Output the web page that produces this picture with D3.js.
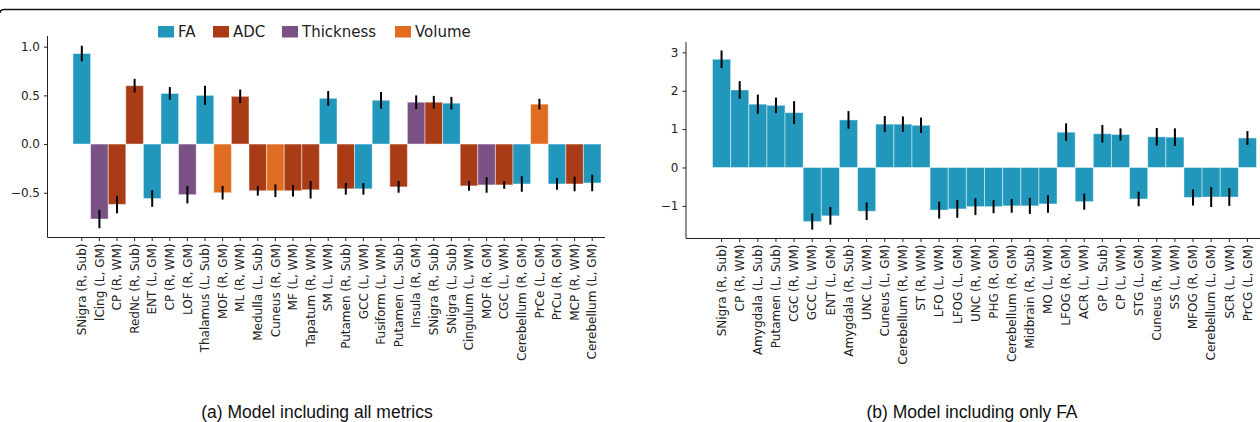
<!DOCTYPE html>
<html>
<head>
<meta charset="utf-8">
<script src="https://cdn.jsdelivr.net/npm/d3@7"></script>
<style>
  body { margin: 0; background: #fff; }
  svg { display: block; }
</style>
</head>
<body>
<script>
// ---- data: panel (a), all metrics ----
const labelsA = ["SNigra (R, Sub)", "lCing (L, GM)", "CP (R, WM)", "RedNc (R, Sub)", "ENT (L, GM)",
  "CP (R, WM)", "LOF (R, GM)", "Thalamus (L, Sub)", "MOF (R, GM)", "ML (R, WM)",
  "Medulla (L, Sub)", "Cuneus (R, GM)", "MF (L, WM)", "Tapatum (R, WM)", "SM (L, WM)",
  "Putamen (R, Sub)", "GCC (L, WM)", "Fusiform (L, WM)", "Putamen (L, Sub)", "Insula (R, GM)",
  "SNigra (R, Sub)", "SNigra (L, Sub)", "Cingulum (L, WM)", "MOF (R, GM)", "CGC (L, WM)",
  "Cerebellum (R, GM)", "PrCe (L, GM)", "PrCu (R, GM)", "MCP (R, WM)", "Cerebellum (L, GM)"];
const metricsA = ["FA", "Thickness", "ADC", "ADC", "FA",
  "FA", "Thickness", "FA", "Volume", "ADC",
  "ADC", "Volume", "ADC", "ADC", "FA",
  "ADC", "FA", "FA", "ADC", "Thickness",
  "ADC", "FA", "ADC", "Thickness", "ADC",
  "FA", "Volume", "FA", "ADC", "FA"];
const valuesA = [0.93, -0.77, -0.62, 0.60, -0.56,
  0.52, -0.52, 0.50, -0.50, 0.49,
  -0.48, -0.48, -0.48, -0.47, 0.47,
  -0.46, -0.46, 0.45, -0.44, 0.43,
  0.43, 0.42, -0.43, -0.42, -0.42,
  -0.41, 0.41, -0.41, -0.41, -0.40];
const errorsA = [0.08, 0.095, 0.09, 0.07, 0.085,
  0.065, 0.09, 0.10, 0.07, 0.07,
  0.05, 0.065, 0.06, 0.09, 0.075,
  0.06, 0.06, 0.085, 0.06, 0.07,
  0.065, 0.065, 0.05, 0.08, 0.04,
  0.08, 0.055, 0.06, 0.075, 0.085];
const ticksA = [-0.5, 0.0, 0.5, 1.0];

// ---- data: panel (b), FA only ----
const labelsB = ["SNigra (R, Sub)", "CP (R, WM)", "Amygdala (L, Sub)", "Putamen (L, Sub)", "CGC (R, WM)",
  "GCC (L, WM)", "ENT (L, GM)", "Amygdala (R, Sub)", "UNC (L, WM)", "Cuneus (L, GM)",
  "Cerebellum (R, WM)", "ST (R, WM)", "LFO (L, WM)", "LFOG (L, GM)", "UNC (R, WM)",
  "PHG (R, GM)", "Cerebellum (R, GM)", "Midbrain (R, Sub)", "MO (L, WM)", "LFOG (R, GM)",
  "ACR (L, WM)", "GP (L, Sub)", "CP (L, WM)", "STG (L, GM)", "Cuneus (R, WM)",
  "SS (L, WM)", "MFOG (R, GM)", "Cerebellum (L, GM)", "SCR (L, WM)", "PrCG (L, GM)"];
const valuesB = [2.82, 2.02, 1.65, 1.62, 1.43,
  -1.41, -1.26, 1.24, -1.14, 1.13,
  1.13, 1.10, -1.11, -1.08, -1.02,
  -1.02, -1.00, -1.00, -0.95, 0.92,
  -0.89, 0.88, 0.86, -0.82, 0.80,
  0.79, -0.78, -0.77, -0.77, 0.77];
const errorsB = [0.23, 0.23, 0.25, 0.20, 0.30,
  0.21, 0.23, 0.23, 0.23, 0.21,
  0.20, 0.20, 0.22, 0.23, 0.22,
  0.17, 0.18, 0.21, 0.23, 0.23,
  0.21, 0.23, 0.16, 0.19, 0.23,
  0.23, 0.21, 0.26, 0.23, 0.18];
const ticksB = [-1, 0, 1, 2, 3];

const metricNames = ["FA", "ADC", "Thickness", "Volume"];
const metricColors = ["#2197bb", "#a93c17", "#7a5185", "#e06c21"];

const W = 1260, H = 422;
const svg = d3.select("body").append("svg").attr("width", W).attr("height", H)
  .style("font-family", "'DejaVu Sans', sans-serif");

const color = d3.scaleOrdinal(metricNames, metricColors);

// frame line at top
svg.append("path")
  .attr("d", "M0,13 Q0,9.5 4,9.5 L1262,9.5")
  .attr("fill", "none").attr("stroke", "#111").attr("stroke-width", 1.6);

function panel(cfg) {
  const g = svg.append("g");
  const x = d3.scaleBand().domain(d3.range(cfg.labels.length)).range(cfg.barRange).padding(0);
  const y = d3.scaleLinear().domain(cfg.yDomain).range([cfg.bottom, cfg.top]);

  // bars
  g.selectAll("rect.bar").data(cfg.values).join("rect")
    .attr("class", "bar")
    .attr("x", (d, i) => x(i))
    .attr("width", x.bandwidth())
    .attr("y", d => y(Math.max(0, d)))
    .attr("height", d => Math.abs(y(d) - y(0)))
    .attr("fill", (d, i) => color(cfg.metrics[i]))
    .attr("stroke", "#fff").attr("stroke-opacity", 0.45).attr("stroke-width", 1);

  // error bars
  g.selectAll("line.err").data(cfg.values).join("line")
    .attr("class", "err")
    .attr("x1", (d, i) => x(i) + x.bandwidth() / 2)
    .attr("x2", (d, i) => x(i) + x.bandwidth() / 2)
    .attr("y1", (d, i) => y(d - cfg.errors[i]))
    .attr("y2", (d, i) => y(d + cfg.errors[i]))
    .attr("stroke", "#000").attr("stroke-width", 2);

  // y axis
  const yAxis = g.append("g")
    .attr("transform", `translate(${cfg.left},0)`)
    .call(d3.axisLeft(y).tickValues(cfg.ticks).tickSize(3.5).tickPadding(4)
      .tickFormat(d => cfg.fmt(d).replace("-", "\u2212")));
  yAxis.select(".domain").attr("d", `M0,${cfg.top}V${cfg.bottom}`).attr("stroke", "#222");
  yAxis.selectAll("text").attr("font-size", 12).attr("fill", "#222")
    .attr("font-family", "'DejaVu Sans', sans-serif");
  yAxis.selectAll(".tick line").attr("stroke", "#222");

  // x axis
  const xAxis = g.append("g")
    .attr("transform", `translate(0,${cfg.bottom})`)
    .call(d3.axisBottom(x).tickSize(3.5).tickPadding(3).tickFormat(i => cfg.labels[i]));
  xAxis.select(".domain").attr("d", `M${cfg.left},0H${cfg.right}`).attr("stroke", "#222");
  xAxis.selectAll(".tick line").attr("stroke", "#222");
  xAxis.selectAll("text")
    .attr("font-size", 12).attr("fill", "#222")
    .attr("font-family", "'DejaVu Sans', sans-serif")
    .attr("transform", "rotate(-90)")
    .attr("text-anchor", "end")
    .attr("x", -6).attr("y", 0).attr("dy", "0.35em");

  // caption
  svg.append("text")
    .attr("x", cfg.captionX).attr("y", 418)
    .attr("text-anchor", "middle")
    .attr("font-family", "'Liberation Sans', Arial, sans-serif")
    .attr("font-size", 17.5).attr("fill", "#111")
    .text(cfg.caption);
}

panel({
  labels: labelsA, metrics: metricsA, values: valuesA, errors: errorsA, ticks: ticksA,
  yDomain: [-0.96, 1.11], top: 36, bottom: 237.5,
  left: 47.5, right: 605, barRange: [73, 601],
  fmt: d3.format(".1f"), caption: "(a) Model including all metrics", captionX: 317
});

panel({
  labels: labelsB, metrics: labelsB.map(() => "FA"), values: valuesB, errors: errorsB, ticks: ticksB,
  yDomain: [-1.85, 3.27], top: 42, bottom: 238.5,
  left: 686, right: 1262, barRange: [712.5, 1256.5],
  fmt: d3.format("d"), caption: "(b) Model including only FA", captionX: 972
});

// legend
const legendX = [158, 213, 282, 395];
const legend = svg.append("g").selectAll("g").data(metricNames).join("g")
  .attr("transform", (d, i) => `translate(${legendX[i]},26)`);
legend.append("rect").attr("width", 16).attr("height", 11.5).attr("fill", d => color(d));
legend.append("text").attr("x", 20).attr("y", 6).attr("dy", "0.35em")
  .attr("font-size", 15).attr("fill", "#222").text(d => d);
</script>
</body>
</html>
